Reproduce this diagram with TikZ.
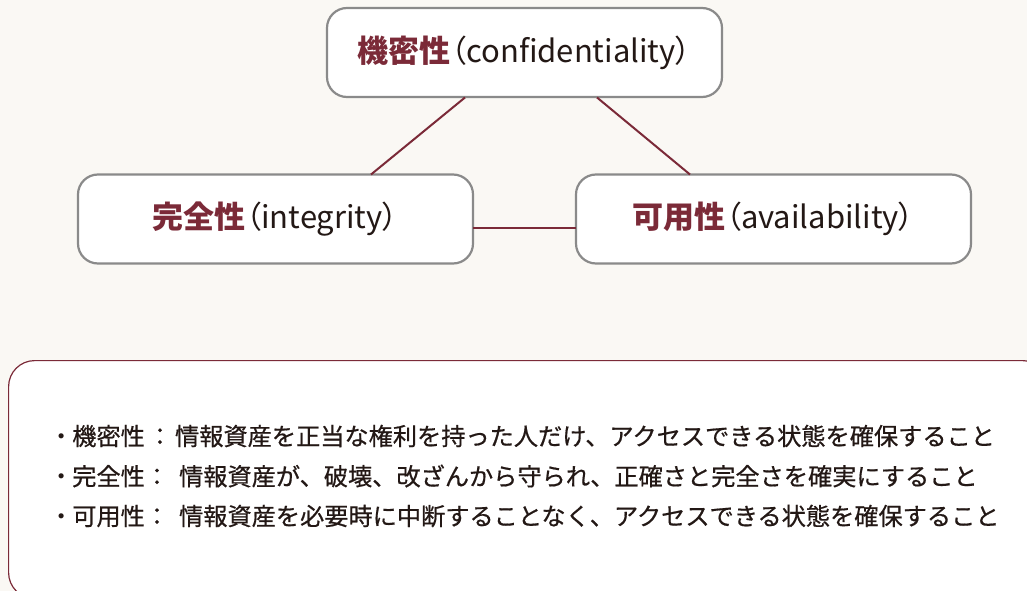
\documentclass[tikz,border=0pt]{standalone}
\usepackage{fontspec}
\newfontfamily\jp[FakeBold=0.6]{Noto Sans CJK JP}
\newfontfamily\jpp[RawFeature=+palt]{Noto Sans CJK JP}
\definecolor{bgc}{HTML}{FAF8F4}
\definecolor{wine}{HTML}{7B2A38}
\definecolor{ink}{HTML}{231815}
\definecolor{bord}{HTML}{8A8A8A}
\tikzset{
  topbox/.style={draw=bord, line width=2.2pt, fill=white, rounded corners=20pt,
    minimum width=395pt, minimum height=89pt, inner sep=0pt, text=ink,
    font=\jpp\fontsize{31}{37}\selectfont},
  link/.style={draw=wine, line width=2pt},
  desc/.style={anchor=west, inner sep=0pt, text=ink, font=\jp\fontsize{24.2}{28}\selectfont}
}
\newcommand{\kwd}[1]{\textcolor{wine}{\bfseries #1}}
\newcommand{\bul}{{\jpp ・}\hspace{5pt}}
\begin{document}
\begin{tikzpicture}[x=1pt,y=-1pt]
\fill[bgc] (0,0) rectangle (1027,591);
\useasboundingbox (0,0) rectangle (1027,591);
\begin{scope}
\clip (0,0) rectangle (1027,591);
\node[topbox] (conf) at (524.5,52.5) {\kwd{機密性}（confidentiality）};
\node[topbox] (integ) at (275.5,219) {\kwd{完全性}（integrity）};
\node[topbox] (avail) at (773.5,219) {\kwd{可用性}（availability）};
\coordinate (c1) at (465,97.5);
\coordinate (c2) at (597,97.5);
\coordinate (i1) at (371,174.5);
\coordinate (a1) at (690,174.5);
\coordinate (h1) at (473,228);
\coordinate (h2) at (576,228);
\draw[link] (c1) -- (i1);
\draw[link] (c2) -- (a1);
\draw[link] (h1) -- (h2);
\node[draw=wine, line width=1.2pt, fill=white, rounded corners=26pt, anchor=north west,
  minimum width=1040pt, minimum height=238pt, inner sep=0pt] (panel) at (8,360) {};
\node[desc] (l1) at (55,436) {\bul 機密性\hspace{3pt}：\hspace{3pt}情報資産を正当な権利を持った人だけ、アクセスできる状態を確保すること};
\node[desc] (l2) at (55,476) {\bul 完全性：\hspace{10pt}情報資産が、破壊、改ざんから守られ、正確さと完全さを確実にすること};
\node[desc] (l3) at (55,516) {\bul 可用性：\hspace{10pt}情報資産を必要時に中断することなく、アクセスできる状態を確保すること};
\end{scope}
\end{tikzpicture}
\end{document}
